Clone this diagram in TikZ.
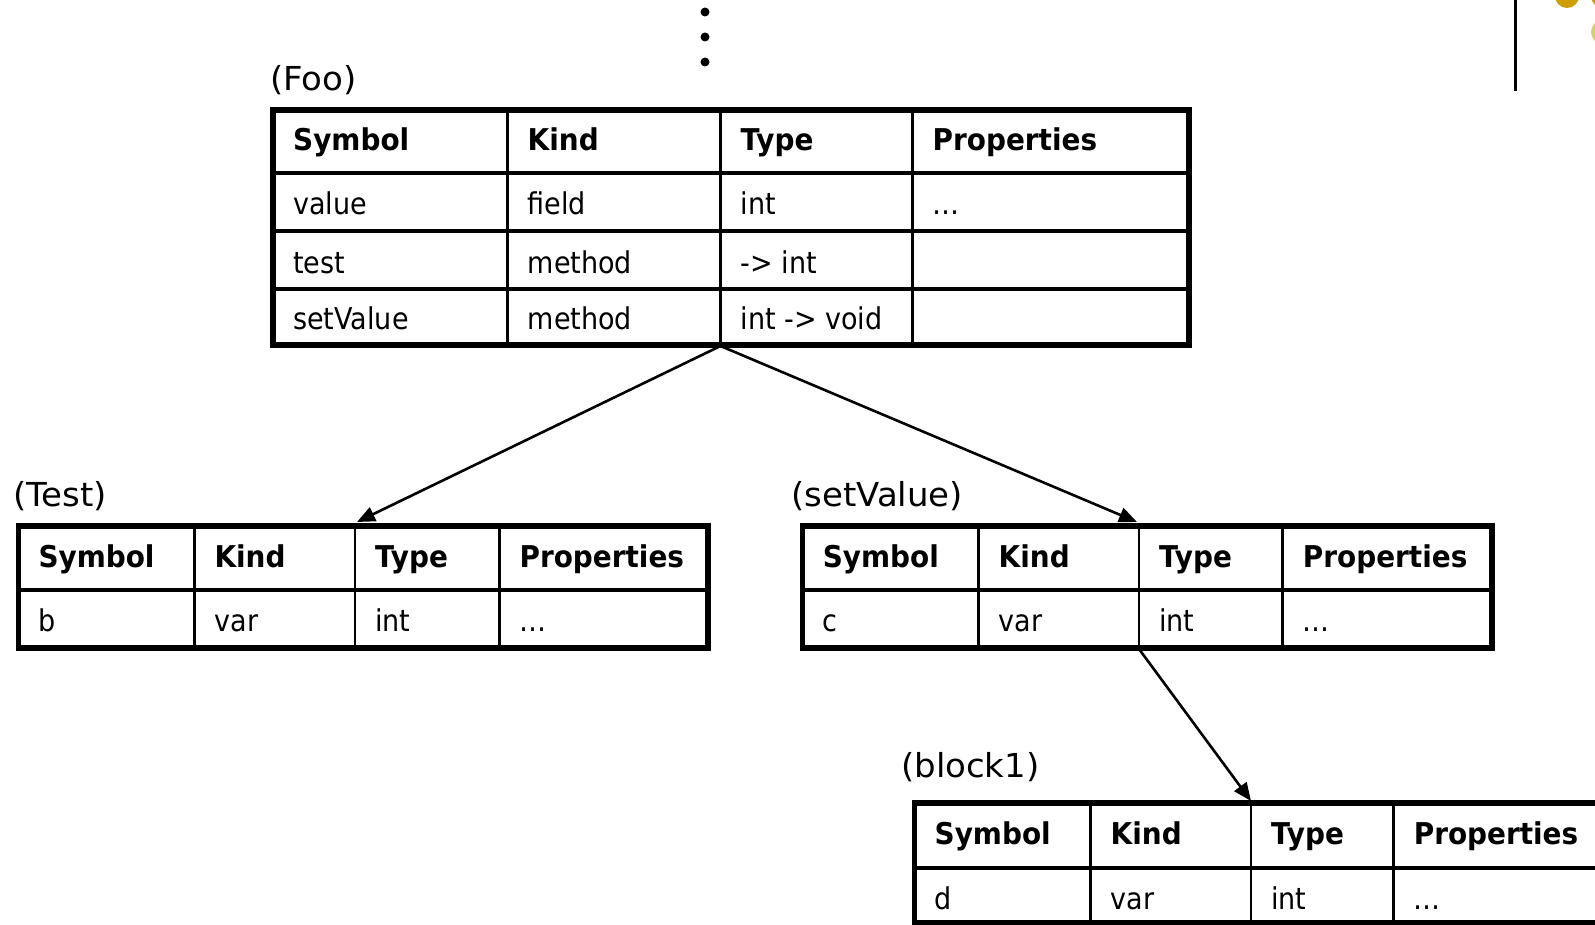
\documentclass[tikz,border=0pt]{standalone}
\usepackage{fontspec}
\setmainfont{DejaVu Sans}
\newfontfamily\cellfont{DejaVu Sans}[FakeStretch=0.9]
\newfontfamily\headfont{DejaVu Sans Bold}[FakeStretch=0.93]
\newfontfamily\labfont{DejaVu Sans}[FakeStretch=1.03]
\usetikzlibrary{arrows.meta}
\definecolor{gold}{RGB}{207,158,0}
\definecolor{olive}{RGB}{212,208,110}
\tikzset{
  cell/.style={anchor=base west, inner sep=0pt, font=\cellfont\fontsize{30}{34}\selectfont},
  head/.style={anchor=base west, inner sep=0pt, font=\headfont\fontsize{30}{34}\selectfont},
  tlabel/.style={anchor=west, inner sep=0pt, font=\labfont\fontsize{33}{38}\selectfont},
  outer/.style={line width=5.5pt},
  vline/.style={line width=2.5pt},
  hline/.style={line width=4pt},
  conn/.style={line width=2.6pt, -{Triangle[length=18pt,width=15pt]}},
}
\begin{document}
\begin{tikzpicture}[x=1pt,y=-1pt]
\useasboundingbox (0,0) rectangle (1595,925);
\clip (0,0) rectangle (1595,925);
\fill[white] (0,0) rectangle (1595,925);

% top right decoration
\draw[line width=3pt] (1515.6,0) -- (1515.6,91.5);
\fill[gold] (1567,-4) circle (12);
\fill[gold] (1603,-4) circle (12);
\fill[olive] (1603,32) circle (12);

% vertical dots
\foreach \yy in {12,37,62} \fill (705,\yy) circle (4.5);

% ---------- Foo table ----------
\node[tlabel] (lfoo) at (270,80.5) {(Foo)};
\foreach \xx in {507.5,720.5,912.5} \draw[vline] (\xx,110) -- (\xx,345);
\foreach \yy in {173,231,289} \draw[hline] (273,\yy) -- (1189,\yy);
\draw[outer] (273,110) rectangle (1189,345);
\node[head] (foo11) at (293,151) {Symbol};
\node[head] (foo12) at (527.5,151) {Kind};
\node[head] (foo13) at (740.5,151) {Type};
\node[head] (foo14) at (932.5,151) {Properties};
\node[cell] (foo21) at (293,215) {value};
\node[cell] (foo22) at (527.5,215) {field};
\node[cell] (foo23) at (740.5,215) {int};
\node[cell] (foo24) at (932.5,215) {\ldots};
\node[cell] (foo31) at (293,273) {test};
\node[cell] (foo32) at (527.5,273) {method};
\node[cell] (foo33) at (740.5,273) {->{} int};
\node[cell] (foo41) at (293,329.5) {setValue};
\node[cell] (foo42) at (527.5,329.5) {method};
\node[cell] (foo43) at (740.5,329.5) {int ->{} void};

% ---------- Test table ----------
\node[tlabel] (ltest) at (13,496.5) {(Test)};
\foreach \xx in {194.3,355,499.4} \draw[vline] (\xx,526) -- (\xx,648);
\draw[hline] (18.3,590) -- (708,590);
\draw[outer] (18.3,526) rectangle (708,648);
\node[head] (t11) at (38.3,567) {Symbol};
\node[head] (t12) at (214.3,567) {Kind};
\node[head] (t13) at (375,567) {Type};
\node[head] (t14) at (519.4,567) {Properties};
\node[cell] (t21) at (38.3,631.5) {b};
\node[cell] (t22) at (214.3,631.5) {var};
\node[cell] (t23) at (375,631.5) {int};
\node[cell] (t24) at (519.4,631.5) {\ldots};

% ---------- setValue table ----------
\node[tlabel] (lset) at (791,496.5) {(setValue)};
\foreach \xx in {978.5,1139,1282.7} \draw[vline] (\xx,526) -- (\xx,648);
\draw[hline] (802.6,590) -- (1492.2,590);
\draw[outer] (802.6,526) rectangle (1492.2,648);
\node[head] (s11) at (822.6,567) {Symbol};
\node[head] (s12) at (998.5,567) {Kind};
\node[head] (s13) at (1159,567) {Type};
\node[head] (s14) at (1302.7,567) {Properties};
\node[cell] (s21) at (822.6,631.5) {c};
\node[cell] (s22) at (998.5,631.5) {var};
\node[cell] (s23) at (1159,631.5) {int};
\node[cell] (s24) at (1302.7,631.5) {\ldots};

% ---------- block1 table ----------
\node[tlabel] (lblk) at (901,767.5) {(block1)};
\foreach \xx in {1090.5,1251,1393.6} \draw[vline] (\xx,803) -- (\xx,922.6);
\draw[hline] (914.5,868) -- (1640,868);
\draw[outer] (914.5,803) rectangle (1640,922.6);
\node[head] (b11) at (934.5,844.5) {Symbol};
\node[head] (b12) at (1110.5,844.5) {Kind};
\node[head] (b13) at (1271,844.5) {Type};
\node[head] (b14) at (1413.6,844.5) {Properties};
\node[cell] (b21) at (934.5,909.5) {d};
\node[cell] (b22) at (1110.5,909.5) {var};
\node[cell] (b23) at (1271,909.5) {int};
\node[cell] (b24) at (1413.6,909.5) {\ldots};

% ---------- connectors ----------
\coordinate (fooB) at (720.5,346);
\coordinate (testT) at (357,522);
\coordinate (setT) at (1137,522);
\coordinate (setB) at (1139,649);
\coordinate (blkT) at (1251,801);
\draw[conn] (fooB) -- (testT);
\draw[conn] (fooB) -- (setT);
\draw[conn] (setB) -- (blkT);
\end{tikzpicture}
\end{document}
